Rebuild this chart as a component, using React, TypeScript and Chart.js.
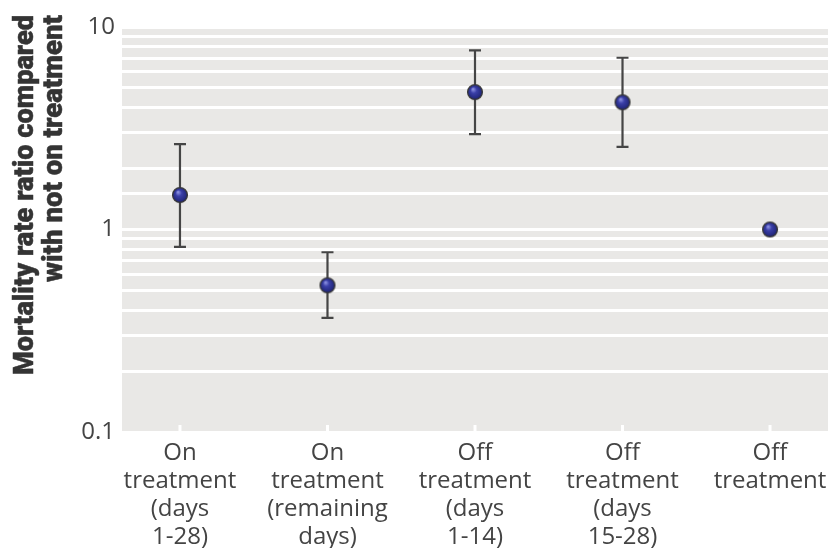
import { useEffect, useRef } from 'react';
import { Chart, registerables } from 'chart.js';

Chart.register(...registerables);

const categories: string[][] = [
  ['On', 'treatment', '(days', '1-28)'],
  ['On', 'treatment', '(remaining', 'days)'],
  ['Off', 'treatment', '(days', '1-14)'],
  ['Off', 'treatment', '(days', '15-28)'],
  ['Off', 'treatment'],
];
const ratios = [1.48, 0.53, 4.77, 4.25, 1.0];
const lowerCI: (number | null)[] = [0.82, 0.366, 2.96, 2.56, null];
const upperCI: (number | null)[] = [2.64, 0.772, 7.67, 7.05, null];
const yTickLabels = ['0.1', '1', '10'];
const yTitleLines = ['Mortality rate ratio compared', 'with not on treatment'];

const PANEL = '#e9e8e6';
const TEXT = '#444444';

function makeBall(): HTMLCanvasElement {
  const c = document.createElement('canvas');
  c.width = 18;
  c.height = 18;
  const g = c.getContext('2d')!;
  const grad = g.createRadialGradient(7, 6, 0.5, 9, 9, 8);
  grad.addColorStop(0, '#8a8fe0');
  grad.addColorStop(0.35, '#3a3fa8');
  grad.addColorStop(0.8, '#252a80');
  grad.addColorStop(1, '#15184a');
  g.beginPath();
  g.arc(9, 9, 7.4, 0, Math.PI * 2);
  g.fillStyle = grad;
  g.fill();
  g.lineWidth = 1.3;
  g.strokeStyle = '#3a3a3a';
  g.stroke();
  return c;
}

const panelPlugin = {
  id: 'panel',
  beforeDraw(chart: any) {
    const { ctx, chartArea: a } = chart;
    ctx.save();
    ctx.fillStyle = PANEL;
    ctx.fillRect(a.left, a.top, a.right - a.left, a.bottom - a.top);
    ctx.restore();
  },
};

const marksPlugin = {
  id: 'marks',
  beforeDatasetsDraw(chart: any) {
    const { ctx, chartArea: a } = chart;
    const xs = chart.scales.x;
    const ys = chart.scales.y;
    ctx.save();
    ctx.strokeStyle = '#ffffff';
    ctx.lineWidth = 3;
    categories.forEach((_, i) => {
      const x = xs.getPixelForValue(i);
      ctx.beginPath();
      ctx.moveTo(x, a.bottom);
      ctx.lineTo(x, a.bottom - 7);
      ctx.stroke();
    });
    ctx.strokeStyle = '#454545';
    ctx.lineWidth = 2.2;
    ratios.forEach((_, i) => {
      const lo = lowerCI[i];
      const hi = upperCI[i];
      if (lo == null || hi == null) return;
      const x = xs.getPixelForValue(i);
      const y1 = ys.getPixelForValue(hi);
      const y2 = ys.getPixelForValue(lo);
      ctx.beginPath();
      ctx.moveTo(x, y1);
      ctx.lineTo(x, y2);
      ctx.moveTo(x - 6, y1);
      ctx.lineTo(x + 6, y1);
      ctx.moveTo(x - 6, y2);
      ctx.lineTo(x + 6, y2);
      ctx.stroke();
    });
    ctx.restore();
  },
};

const titlePlugin = {
  id: 'vtitle',
  afterDraw(chart: any) {
    const { ctx } = chart;
    const lengths = [360, 267];
    const baselines = [33, 62];
    ctx.save();
    ctx.fillStyle = '#343434';
    ctx.strokeStyle = '#343434';
    ctx.lineWidth = 0.5;
    ctx.lineJoin = 'round';
    ctx.font = '900 28px Roboto, "DejaVu Sans", sans-serif';
    ctx.textAlign = 'right';
    ctx.textBaseline = 'alphabetic';
    yTitleLines.forEach((line, i) => {
      const w = ctx.measureText(line).width;
      ctx.save();
      ctx.translate(baselines[i], 15);
      ctx.rotate(-Math.PI / 2);
      ctx.scale(lengths[i] / w, 1);
      ctx.fillText(line, 0, 0);
      ctx.strokeText(line, 0, 0);
      ctx.restore();
    });
    ctx.restore();
  },
};

export default function App() {
  const ref = useRef<HTMLCanvasElement | null>(null);

  useEffect(() => {
    if (!ref.current) return;
    const ball = makeBall();
    const chart = new Chart(ref.current, {
      type: 'scatter',
      data: {
        datasets: [
          {
            data: ratios.map((y, i) => ({ x: i, y })),
            pointStyle: ball as any,
            pointRadius: 8,
            pointHoverRadius: 8,
            showLine: false,
          },
        ],
      },
      options: {
        animation: false,
        responsive: true,
        maintainAspectRatio: false,
        events: [],
        layout: { autoPadding: false, padding: { top: 27, right: 5, bottom: 0, left: 0 } },
        plugins: {
          legend: { display: false },
          tooltip: { enabled: false },
        },
        scales: {
          x: {
            type: 'linear',
            min: -0.393,
            max: 4.393,
            afterBuildTicks(s: any) {
              s.ticks = categories.map((_, i) => ({ value: i }));
            },
            afterFit(s: any) {
              s.height = 116;
              s.paddingLeft = 0;
              s.paddingRight = 0;
            },
            grid: { display: false },
            border: { display: false },
            ticks: {
              autoSkip: false,
              maxRotation: 0,
              minRotation: 0,
              padding: -1,
              color: TEXT,
              font: { family: '"Open Sans"', size: 24, lineHeight: 1.17 },
              callback: (v: any) => categories[Math.round(Number(v))] ?? '',
            },
          },
          y: {
            type: 'logarithmic',
            min: 0.1,
            max: 10,
            afterFit(s: any) {
              s.width = 122;
              s.paddingTop = 0;
              s.paddingBottom = 0;
            },
            grid: { color: '#ffffff', lineWidth: 3, drawTicks: false },
            border: { display: false },
            ticks: {
              autoSkip: false,
              padding: 7,
              color: TEXT,
              font: { family: '"Open Sans"', size: 24 },
              callback: (v: any) => {
                const l = Math.log10(Number(v));
                if (Math.abs(l - Math.round(l)) > 1e-6) return '';
                return yTickLabels[Math.round(l) + 1] ?? '';
              },
            },
          },
        },
      },
      plugins: [panelPlugin, marksPlugin, titlePlugin],
    });
    return () => chart.destroy();
  }, []);

  return (
    <div style={{ position: 'fixed', left: 0, top: 0, width: 833, height: 548, background: '#fff' }}>
      <canvas ref={ref} />
    </div>
  );
}
